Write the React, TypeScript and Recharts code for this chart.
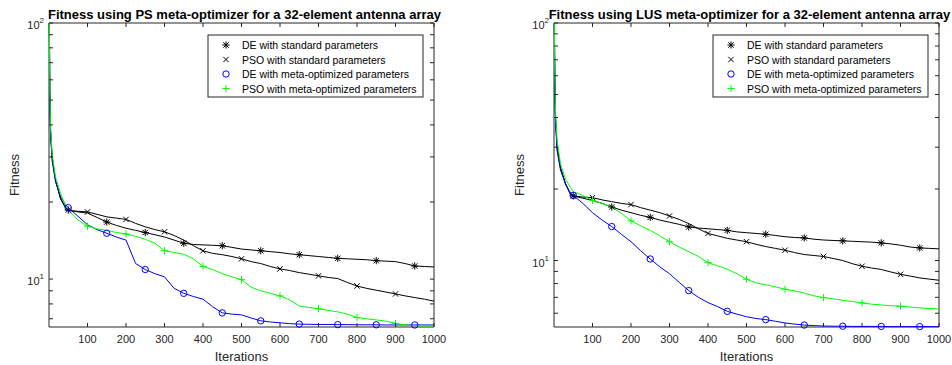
import React from 'react';
import { LineChart, Line, XAxis, YAxis, ReferenceArea } from 'recharts';

// iteration samples shared by every series
const iterations = [
  1, 2, 4, 8, 17, 30, 43, 50, 75, 100, 125, 150, 175, 200, 225, 250, 275, 300, 325, 350, 375, 400, 425, 450, 475,
  500, 525, 550, 575, 600, 625, 650, 675, 700, 725, 750, 775, 800, 825, 850, 875, 900, 925, 950, 975, 1000,
];

// PS meta-optimizer (left panel)
const psDeStd = [
  100, 55, 38, 30, 24.3, 20.6, 19.0, 18.6, 18.3, 18.1, 17.4, 16.7, 16.2, 15.8, 15.5, 15.2, 14.9, 14.6, 14.2, 13.8,
  13.65, 13.6, 13.55, 13.5, 13.3, 13.1, 13.0, 12.9, 12.8, 12.7, 12.55, 12.45, 12.35, 12.25, 12.15, 12.05, 12.0,
  11.95, 11.9, 11.8, 11.75, 11.7, 11.5, 11.25, 11.2, 11.15,
];
const psPsoStd = [
  100, 55, 38, 30, 24.3, 20.6, 19.0, 18.5, 18.4, 18.3, 17.9, 17.5, 17.3, 17.1, 16.5, 16.0, 15.6, 15.3, 14.8, 14.2,
  13.5, 12.9, 12.6, 12.45, 12.25, 12.0, 11.7, 11.5, 11.2, 10.96, 10.8, 10.6, 10.45, 10.3, 10.15, 10.05, 9.7, 9.4,
  9.2, 9.05, 8.9, 8.75, 8.6, 8.47, 8.35, 8.2,
];
const psDeMeta = [
  100, 52, 37, 29, 24, 21, 19.5, 19.0, 17.6, 16.3, 15.6, 15.1, 14.6, 14.2, 11.5, 10.9, 10.5, 10.2, 9.2, 8.8, 8.55,
  8.35, 7.8, 7.38, 7.3, 7.25, 7.05, 6.87, 6.8, 6.75, 6.7, 6.67, 6.66, 6.65, 6.65, 6.64, 6.64, 6.63, 6.63, 6.63,
  6.62, 6.62, 6.62, 6.62, 6.62, 6.62,
];
const psPsoMeta = [
  100, 58, 40, 31, 25, 21.6, 19.3, 18.6, 17.0, 16.1, 15.7, 15.5, 15.2, 15.0, 14.7, 14.3, 13.8, 12.9, 12.7, 12.5,
  12.0, 11.2, 10.9, 10.5, 10.2, 9.95, 9.3, 9.0, 8.8, 8.6, 8.3, 7.85, 7.75, 7.66, 7.55, 7.45, 7.3, 7.08, 7.0, 6.93,
  6.85, 6.71, 6.62, 6.58, 6.56, 6.55,
];

// LUS meta-optimizer (right panel)
const lusDeStd = [
  100, 60, 40, 30, 24.5, 21, 19.0, 18.7, 18.3, 17.9, 17.4, 16.8, 16.3, 15.9, 15.5, 15.2, 14.8, 14.5, 14.2, 13.85,
  13.7, 13.6, 13.5, 13.4, 13.2, 13.1, 13.0, 12.9, 12.75, 12.6, 12.5, 12.45, 12.3, 12.2, 12.15, 12.1, 12.05, 12.0,
  11.95, 11.86, 11.75, 11.6, 11.4, 11.3, 11.25, 11.2,
];
const lusPsoStd = [
  100, 60, 40, 30, 24.5, 21, 19.0, 18.7, 18.5, 18.4, 18.0, 17.7, 17.4, 17.2, 16.7, 16.3, 15.9, 15.4, 14.9, 14.3,
  13.6, 13.0, 12.7, 12.4, 12.2, 12.0, 11.7, 11.45, 11.25, 11.05, 10.8, 10.6, 10.5, 10.4, 10.2, 10.0, 9.7, 9.46,
  9.3, 9.17, 8.95, 8.75, 8.6, 8.45, 8.35, 8.26,
];
const lusDeMeta = [
  100, 55, 38, 29, 24, 21, 19.2, 18.8, 17.4, 15.9, 14.8, 13.9, 12.9, 12.0, 11.0, 10.15, 9.4, 8.8, 8.1, 7.47, 7.0,
  6.65, 6.4, 6.11, 5.95, 5.8, 5.7, 5.64, 5.55, 5.46, 5.4, 5.35, 5.32, 5.3, 5.29, 5.29, 5.28, 5.28, 5.28, 5.28,
  5.27, 5.27, 5.27, 5.27, 5.27, 5.27,
];
const lusPsoMeta = [
  100, 62, 42, 32, 25.5, 22, 20.3, 19.5, 18.8, 17.9, 17.4, 16.8, 15.8, 14.7, 14.0, 13.4, 12.7, 12.0, 11.4, 10.9,
  10.4, 9.8, 9.5, 9.2, 8.8, 8.34, 8.05, 7.9, 7.75, 7.57, 7.45, 7.3, 7.1, 6.98, 6.9, 6.8, 6.72, 6.63, 6.55, 6.5,
  6.45, 6.42, 6.37, 6.32, 6.28, 6.25,
];

const xTicks = [100, 200, 300, 400, 500, 600, 700, 800, 900, 1000];
const psYTicks = [7, 8, 9, 10, 20, 30, 40, 50, 60, 70, 80, 90, 100];
const lusYTicks = [6, 7, 8, 9, 10, 20, 30, 40, 50, 60, 70, 80, 90, 100];
const deMarks = [50, 150, 250, 350, 450, 550, 650, 750, 850, 950];
const psoMarks = [100, 200, 300, 400, 500, 600, 700, 800, 900];

const series = [
  { key: 'deStd', name: 'DE with standard parameters', color: '#000000', marker: 'star', marks: deMarks },
  { key: 'psoStd', name: 'PSO with standard parameters', color: '#000000', marker: 'cross', marks: psoMarks },
  { key: 'deMeta', name: 'DE with meta-optimized parameters', color: '#0000ff', marker: 'circle', marks: deMarks },
  { key: 'psoMeta', name: 'PSO with meta-optimized parameters', color: '#00ff00', marker: 'plus', marks: psoMarks },
];

const W = 476;
const H = 365;
const PLOT_W = 385;
const PLOT_H = 304;
const TOP = 23;
const X_AXIS_H = 38;
const AXIS = '#262626';
const FONT = "'Liberation Sans', Arial, Helvetica, sans-serif";
const TICK_LEN = 4;

function buildRows(a: number[], b: number[], c: number[], d: number[]) {
  return iterations.map((x, i) => ({ x, deStd: a[i], psoStd: b[i], deMeta: c[i], psoMeta: d[i] }));
}

function Marker({ kind, cx, cy, color }: { kind: string; cx: number; cy: number; color: string }) {
  if (kind === 'circle') {
    return <circle cx={cx} cy={cy} r={3.2} fill="none" stroke={color} strokeWidth={1} />;
  }
  const s = 3.6;
  const d = 2.7;
  const plus = `M${cx - s},${cy}H${cx + s}M${cx},${cy - s}V${cy + s}`;
  const cross = `M${cx - d},${cy - d}L${cx + d},${cy + d}M${cx - d},${cy + d}L${cx + d},${cy - d}`;
  const path = kind === 'plus' ? plus : kind === 'cross' ? cross : plus + cross;
  return <path d={path} stroke={color} strokeWidth={1} fill="none" />;
}

function XTick(props: any) {
  const { x, y, payload } = props;
  return (
    <g>
      <line x1={x} x2={x} y1={y} y2={y - TICK_LEN} stroke={AXIS} />
      <line x1={x} x2={x} y1={y - PLOT_H} y2={y - PLOT_H + TICK_LEN} stroke={AXIS} />
      <text x={x} y={y + 16} textAnchor="middle" fontSize={11} fill={AXIS} fontFamily={FONT}>
        {payload.value}
      </text>
    </g>
  );
}

function YTick(props: any) {
  const { x, y, payload } = props;
  const lg = Math.log10(payload.value);
  const exp = Math.round(lg);
  const major = Math.abs(lg - exp) < 1e-9;
  return (
    <g>
      <line x1={x} x2={x + TICK_LEN} y1={y} y2={y} stroke={AXIS} />
      <line x1={x + PLOT_W} x2={x + PLOT_W - TICK_LEN} y1={y} y2={y} stroke={AXIS} />
      {major && (
        <text x={x - 5} y={y + 6} textAnchor="end" fontSize={11} fill={AXIS} fontFamily={FONT}>
          10
          <tspan dy={-6} fontSize={8}>
            {exp}
          </tspan>
        </text>
      )}
    </g>
  );
}

function Panel({ title, rows, yMin, yTicks, yAxisW }: any) {
  const marginRight = W - yAxisW - PLOT_W;
  const plotCx = yAxisW + PLOT_W / 2;
  const legX = yAxisW + PLOT_W - 11 - 215;
  const legY = 35;

  return (
    <div style={{ position: 'relative', width: W, height: H }}>
      <LineChart width={W} height={H} data={rows} margin={{ top: TOP, right: marginRight, bottom: 0, left: 0 }}>
        <XAxis
          dataKey="x"
          type="number"
          domain={[0, 1000]}
          ticks={xTicks}
          interval={0}
          height={X_AXIS_H}
          tickSize={0}
          tickMargin={0}
          tickLine={false}
          axisLine={false}
          tick={(p: any) => <XTick {...p} />}
        />
        <YAxis
          type="number"
          scale="log"
          domain={[yMin, 100]}
          ticks={yTicks}
          interval={0}
          width={yAxisW}
          tickSize={0}
          tickMargin={0}
          tickLine={false}
          axisLine={false}
          tick={(p: any) => <YTick {...p} />}
        />
        <ReferenceArea x1={0} x2={1000} y1={yMin} y2={100} fill="none" stroke={AXIS} strokeWidth={1} />
        {series.map((s) => (
          <Line
            key={s.key}
            type="linear"
            dataKey={s.key}
            stroke={s.color}
            strokeWidth={1}
            activeDot={false}
            isAnimationActive={false}
            dot={(p: any) => {
              if (!s.marks.includes(p.payload.x) || p.cx == null) return <g key={`${s.key}-${p.index}`} />;
              return <Marker key={`${s.key}-${p.index}`} kind={s.marker} cx={p.cx} cy={p.cy} color={s.color} />;
            }}
          />
        ))}
      </LineChart>
      <svg width={W} height={H} style={{ position: 'absolute', left: 0, top: 0, pointerEvents: 'none' }}>
        <text x={plotCx + 3} y={19} textAnchor="middle" fontSize={13} fontWeight="bold" fill="#000" fontFamily={FONT}>
          {title}
        </text>
        <text
          x={0}
          y={0}
          transform={`translate(${yAxisW - 35}, ${TOP + PLOT_H / 2}) rotate(-90)`}
          textAnchor="middle"
          dominantBaseline="central"
          fontSize={13}
          fill={AXIS}
          fontFamily={FONT}
        >
          Fitness
        </text>
        <text x={plotCx} y={361} textAnchor="middle" fontSize={13} fill={AXIS} fontFamily={FONT}>
          Iterations
        </text>
        <rect x={legX} y={legY} width={215} height={62} fill="#fff" stroke={AXIS} strokeWidth={1} />
        {series.map((s, i) => {
          const cy = legY + 10 + i * 14.5;
          return (
            <g key={s.key}>
              <Marker kind={s.marker} cx={legX + 18} cy={cy} color={s.color} />
              <text x={legX + 34} y={cy} dominantBaseline="central" fontSize={10.5} fill="#000" fontFamily={FONT}>
                {s.name}
              </text>
            </g>
          );
        })}
      </svg>
    </div>
  );
}

export default function App() {
  const psRows = buildRows(psDeStd, psPsoStd, psDeMeta, psPsoMeta);
  const lusRows = buildRows(lusDeStd, lusPsoStd, lusDeMeta, lusPsoMeta);
  return (
    <div style={{ position: 'absolute', left: 0, top: 0, display: 'flex', width: 952, height: 365, background: '#fff' }}>
      <Panel
        title="Fitness using PS meta-optimizer for a 32-element antenna array"
        rows={psRows}
        yMin={6.5}
        yTicks={psYTicks}
        yAxisW={49}
      />
      <Panel
        title="Fitness using LUS meta-optimizer for a 32-element antenna array"
        rows={lusRows}
        yMin={5.25}
        yTicks={lusYTicks}
        yAxisW={78}
      />
    </div>
  );
}
